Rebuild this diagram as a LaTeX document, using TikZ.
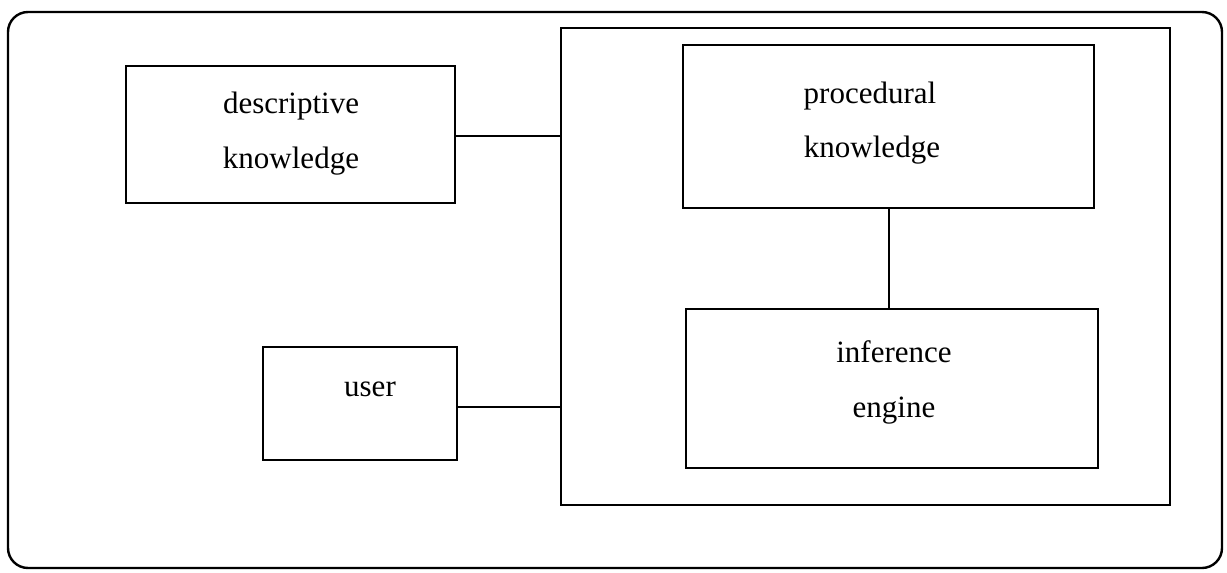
\documentclass[tikz,border=0pt]{standalone}
\usepackage{fontspec}
\setmainfont{Liberation Serif}
\begin{document}
\begin{tikzpicture}[x=1pt,y=-1pt,
  frame/.style={draw=black,line width=2.4pt,rounded corners=20pt},
  holder/.style={draw=black,line width=2.6pt},
  block/.style={draw=black,line width=2.8pt},
  link/.style={draw=black,line width=2pt},
  label/.style={anchor=base,inner sep=0pt,font=\fontsize{31}{31}\selectfont}]
\useasboundingbox (0,0) rectangle (1227,573);
% outer rounded frame
\draw[frame] (8,12) rectangle (1222,568);
% container holding the two knowledge-base parts
\coordinate (hTL) at (561,28);
\coordinate (hBR) at (1170,505);
\draw[holder] (hTL) rectangle (hBR);
\coordinate (hL1) at (561,136);
\coordinate (hL2) at (561,407);
% boxes
\draw[block] (126,66) rectangle (455,203);
\coordinate (descR) at (455,136);
\draw[block] (683,45) rectangle (1094,208);
\coordinate (procB) at (889,208);
\draw[block] (686,309) rectangle (1098,468);
\coordinate (infT) at (889,309);
\draw[block] (263,347) rectangle (457,460);
\coordinate (userR) at (457,407);
% texts
\node[label] (d1) at (291,113) {descriptive};
\node[label] (d2) at (291,168) {knowledge};
\node[label] (p1) at (870,103) {procedural};
\node[label] (p2) at (872,157) {knowledge};
\node[label] (i1) at (894,362) {inference};
\node[label] (i2) at (894,417) {engine};
\node[label] (u1) at (370,396) {user};
% connectors
\draw[link] (descR) -- (hL1);
\draw[link] (userR) -- (hL2);
\draw[link] (procB) -- (infT);
\end{tikzpicture}
\end{document}
